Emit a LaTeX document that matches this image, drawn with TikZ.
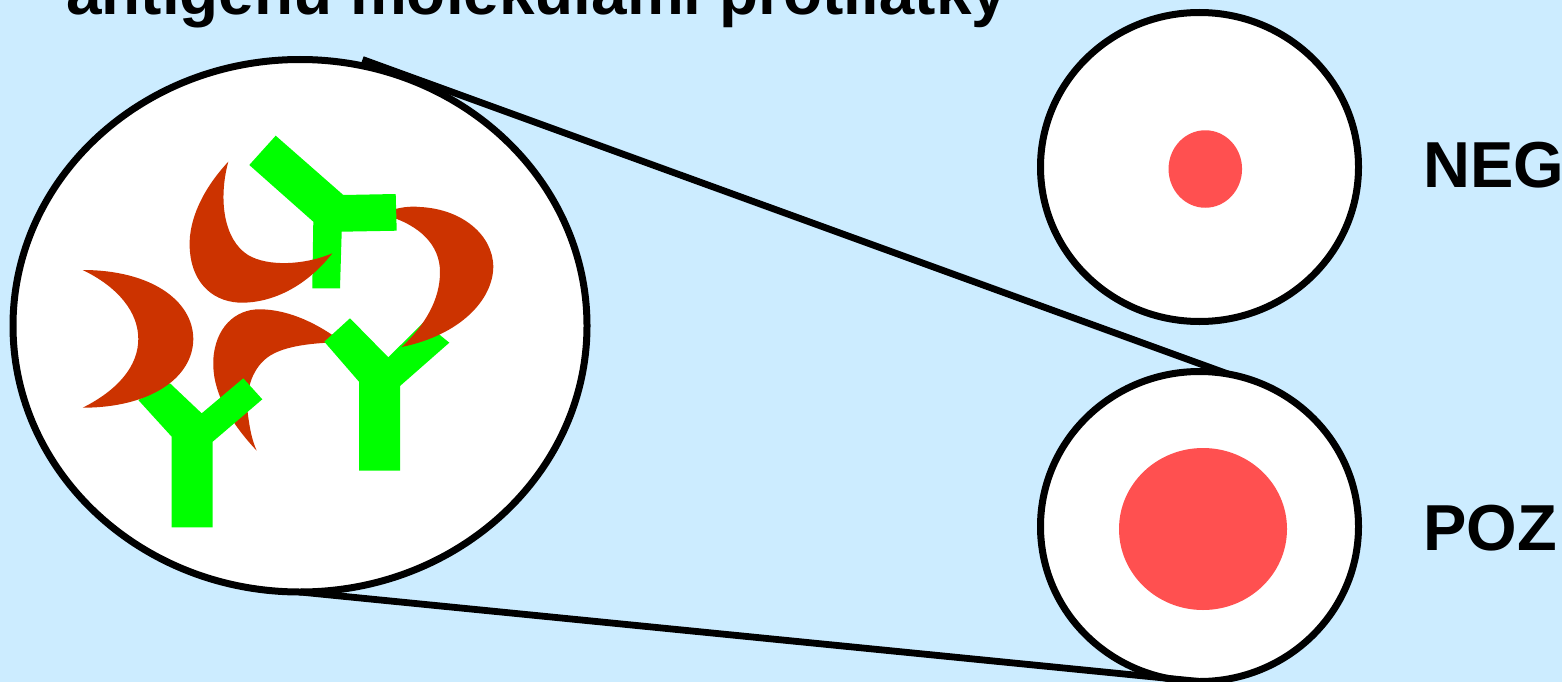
\documentclass[tikz,border=0pt]{standalone}
\usepackage{fontspec}
\setmainfont{Liberation Sans}
\usetikzlibrary{shapes.geometric}
\definecolor{bgblue}{HTML}{CCECFF}
\definecolor{agred}{HTML}{CC3300}
\definecolor{abgreen}{HTML}{00FF00}
\definecolor{dotred}{HTML}{FF5050}
\begin{document}
\begin{tikzpicture}[x=1pt,y=-1pt,
 lens/.style={ellipse, draw=black, fill=white, line width=7pt, inner sep=0pt, outer sep=0pt},
 dotnode/.style={ellipse, fill=dotred, draw=none, inner sep=0pt, outer sep=0pt},
 link/.style={line width=6.8pt, draw=black},
 antibody/.style={fill=abgreen},
 antigen/.style={fill=agred},
 restag/.style={font=\fontsize{65}{65}\selectfont\bfseries, anchor=base west, inner sep=0pt},
 titletext/.style={font=\fontsize{63.9}{64}\selectfont\bfseries, anchor=base west, inner sep=0pt}]
\useasboundingbox (0,0) rectangle (1562,682);
\clip (0,0) rectangle (1562,682);
\fill[bgblue] (0,0) rectangle (1562,682);
\node[titletext] (ttl) at (66,15) {antigenu molekulami protilátky};
% big magnified ellipse
\node[lens, minimum width=574pt, minimum height=532.5pt] (big) at (300,325.75) {};
% antigens and antibodies
\fill[antigen] (256.7,450.7) .. controls (228,420) and (212,390) .. (213.3,360)
  .. controls (215,328) and (235,309) .. (260,309.3)
  .. controls (290,309.5) and (320,325) .. (342,342)
  .. controls (315,343) and (285,345) .. (268,357)
  .. controls (250,370) and (245,395) .. (248,415)
  .. controls (250,430) and (252,440) .. (256.7,450.7) -- cycle;
\fill[antibody] (170,383.3) -- (201.7,413.3) -- (243.3,378.3) -- (262.3,399.3) -- (212.7,441.7)
  -- (212.7,527.3) -- (171.7,527.3) -- (171.7,436.7) -- (138.3,400) -- cycle;
\fill[antigen] (82.7,270) .. controls (150,270) and (193,300) .. (193.3,339)
  .. controls (193,378) and (150,407.7) .. (82.7,407.7)
  .. controls (118,390) and (138.3,366) .. (138.3,339)
  .. controls (138.3,312) and (118,287) .. (82.7,270) -- cycle;
\fill[antibody] (350,318.3) -- (388.3,357.3) -- (424,322) -- (449.3,342.7) -- (400,386)
  -- (400,470.7) -- (359,470.7) -- (359,381.7) -- (324.3,341.7) -- cycle;
\fill[antigen] (385,212) .. controls (400,207) and (410,206) .. (420,207)
  .. controls (462,209) and (493,235) .. (493.3,266.7)
  .. controls (493,300) and (460,335) .. (401.7,347)
  .. controls (425,325) and (440,300) .. (440,272)
  .. controls (440,245) and (420,225) .. (385,215) -- cycle;
\fill[antibody] (275.7,135.7) -- (343.3,195) -- (395.7,194) -- (396.7,230.7) -- (341.7,231.7)
  -- (340,288.3) -- (312.3,288.3) -- (313.3,221.7) -- (249.3,165) -- cycle;
\fill[antigen] (228.3,161.7) .. controls (200,192) and (187,225) .. (190,252)
  .. controls (193,285) and (215,303) .. (243,302.7)
  .. controls (278,302) and (310,282) .. (332.3,253.3)
  .. controls (305,265) and (268,267) .. (248,255)
  .. controls (224,240) and (218,200) .. (228.3,161.7) -- cycle;
% result circles
\node[lens, minimum width=318pt, minimum height=309pt] (neg) at (1199.5,167) {};
\node[dotnode, minimum width=73.5pt, minimum height=77.5pt] (negdot) at (1205.3,169) {};
\node[lens, minimum width=318pt, minimum height=310pt] (poz) at (1199.5,526.5) {};
\node[dotnode, minimum width=168pt, minimum height=162pt] (pozdot) at (1203,529) {};
\node[restag] (negtxt) at (1423,187.7) {NEG};
\node[restag] (poztxt) at (1423,550.7) {POZ};
% connectors
\coordinate (topstart) at (362.5,59.5);
\coordinate (topend) at (1228,374);
\draw[link] (topstart) -- (topend);
\draw[link] (big.south) -- (poz.south);
\end{tikzpicture}
\end{document}
